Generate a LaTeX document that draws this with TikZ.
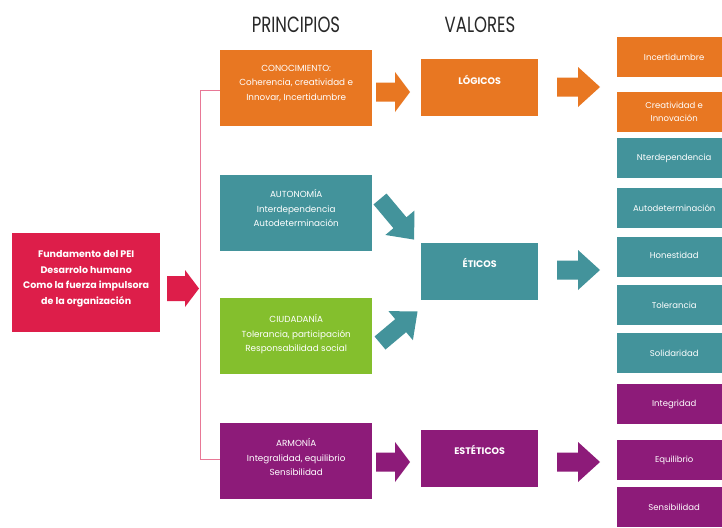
\documentclass[tikz,border=0pt]{standalone}
\usepackage{fontspec}
\setmainfont{Poppins}
\usepackage{graphicx}
\definecolor{corange}{RGB}{232,119,34}
\definecolor{cteal}{RGB}{67,147,155}
\definecolor{cgreen}{RGB}{132,191,45}
\definecolor{cpurple}{RGB}{141,27,121}
\definecolor{ccrimson}{RGB}{221,30,74}
\definecolor{cpink}{RGB}{232,120,150}
\definecolor{chead}{RGB}{40,40,40}
\tikzset{
  box/.style={rectangle, inner sep=0pt, anchor=north west, draw=none},
  pbox/.style={box, minimum width=152pt, minimum height=76pt},
  vbox/.style={box, minimum width=117pt, minimum height=57pt},
  rbox/.style={box, minimum width=120pt, minimum height=40pt},
  ptext/.style={text=white, align=center, font=\fontsize{8.8}{14.5}\selectfont, inner sep=0pt},
  vtext/.style={text=white, font=\fontsize{9.5}{10}\selectfont\bfseries, inner sep=0pt},
  rtext/.style={text=white, align=center, font=\fontsize{8.5}{13}\selectfont, inner sep=0pt},
  htext/.style={text=chead, font=\fontsize{22}{24}\selectfont, inner sep=0pt},
  link/.style={draw=cpink, line width=0.9pt},
  pics/barrow/.style n args={5}{code={
    \fill[#5] (0,-#3) -- ({#1-#2},-#3) -- ({#1-#2},-#4) -- (#1,0) -- ({#1-#2},#4) -- ({#1-#2},#3) -- (0,#3) -- cycle;
  }}
}
\begin{document}
\begin{tikzpicture}[x=1pt,y=-1pt]
\useasboundingbox (0,0) rectangle (722,527);
\clip (0,0) rectangle (722,527);
\fill[white] (0,0) rectangle (722,527);

% headers
\node[htext] (hprin) at (296,25) {\scalebox{0.75}[1]{PRINCIPIOS}};
\node[htext] (hval) at (480,25) {\scalebox{0.75}[1]{VALORES}};

% main box
\node[box, fill=ccrimson, minimum width=148pt, minimum height=99pt] (main) at (12,233) {};
\node[text=white, align=center, font=\fontsize{9.5}{15.5}\selectfont\bfseries, inner sep=0pt] (maintxt) at ([yshift=4pt]main.center)
  {Fundamento del PEI\\Desarrolo humano\\Como la fuerza impulsora\\de la organización};

% principle boxes
\node[pbox, fill=corange] (con) at (220,50) {};
\node[pbox, fill=cteal] (aut) at (220,175) {};
\node[pbox, fill=cgreen] (ciu) at (220,298) {};
\node[pbox, fill=cpurple] (arm) at (220,423) {};
\node[ptext] (contxt) at ([yshift=5pt]con.center) {CONOCIMIENTO:\\Coherencia, creatividad e\\Innovar, Incertidumbre};
\node[ptext] (auttxt) at ([yshift=5pt]aut.center) {AUTONOMÍA\\Interdependencia\\Autodeterminación};
\node[ptext] (ciutxt) at ([yshift=2pt]ciu.center) {CIUDADANÍA\\Tolerancia, participación\\Responsabilidad social};
\node[ptext] (armtxt) at ([yshift=4pt]arm.center) {ARMONÍA\\Integralidad, equilibrio\\Sensibilidad};

% value boxes
\node[vbox, fill=corange] (log) at (421,59) {};
\node[vbox, fill=cteal] (eti) at (421,243) {};
\node[vbox, fill=cpurple] (est) at (421,430) {};
\node[vtext] (logtxt) at ([yshift=-21pt]log.north) {LÓGICOS};
\node[vtext] (etitxt) at ([yshift=-20pt]eti.north) {ÉTICOS};
\node[vtext] (esttxt) at ([yshift=-20pt]est.north) {ESTÉTICOS};

% right boxes
\node[rbox, fill=corange] (r1) at (617,37) {};
\node[rbox, fill=corange] (r2) at (617,92) {};
\node[rbox, fill=cteal] (r3) at (617,138) {};
\node[rbox, fill=cteal] (r4) at (617,188) {};
\node[rbox, fill=cteal] (r5) at (617,237) {};
\node[rbox, fill=cteal] (r6) at (617,285) {};
\node[rbox, fill=cteal] (r7) at (617,333) {};
\node[rbox, fill=cpurple] (r8) at (617,384) {};
\node[rbox, fill=cpurple] (r9) at (617,440) {};
\node[rbox, fill=cpurple] (r10) at (617,487) {};
\node[rtext] at ([xshift=-3pt]r1.center) {Incertidumbre};
\node[rtext] at ([xshift=-3pt]r2.center) {Creatividad e\\Innovación};
\node[rtext] at ([xshift=-3pt]r3.center) {Nterdependencia};
\node[rtext] at ([xshift=-3pt]r4.center) {Autodeterminación};
\node[rtext] at ([xshift=-3pt,yshift=2pt]r5.center) {Honestidad};
\node[rtext] at ([xshift=-3pt]r6.center) {Tolerancia};
\node[rtext] at ([xshift=-3pt]r7.center) {Solidaridad};
\node[rtext] at ([xshift=-3pt]r8.center) {Integridad};
\node[rtext] at ([xshift=-3pt]r9.center) {Equilibrio};
\node[rtext] at ([xshift=-3pt]r10.center) {Sensibilidad};

% pink bracket line
\coordinate (btop) at (200,90);
\coordinate (bbot) at (200,459);
\draw[link] (con.west |- btop) -- (btop) -- (bbot) -- (arm.west |- bbot);

% block arrows
\pic at (167,288.5) {barrow={32}{14}{12.5}{18.5}{ccrimson}};
\pic at (376,92) {barrow={34}{15}{9.5}{20}{corange}};
\pic at (376,462) {barrow={34}{15}{9.5}{20}{cpurple}};
\pic at (557,87) {barrow={43}{22}{9.5}{20}{corange}};
\pic at (557,270) {barrow={43}{22}{9.5}{20}{cteal}};
\pic at (557,462) {barrow={43}{22}{9.5}{20}{cpurple}};
\pic[rotate=-50] at (380,199) {barrow={53}{22}{8.5}{19}{cteal}};
\pic[rotate=40] at (380,343) {barrow={49}{22}{8.5}{19}{cteal}};
\end{tikzpicture}
\end{document}
